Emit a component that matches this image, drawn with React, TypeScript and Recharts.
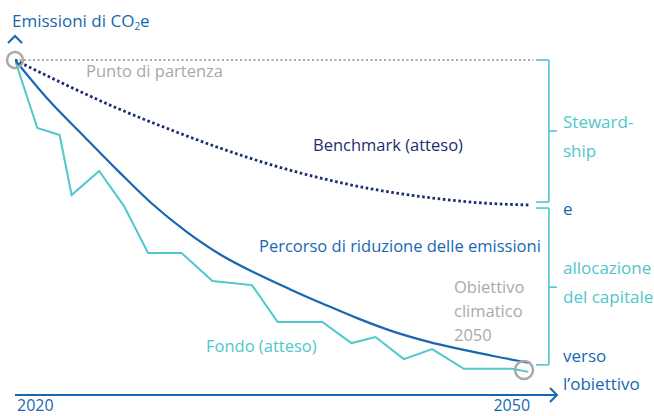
import React from 'react'
import { LineChart, Line, XAxis, YAxis, ReferenceLine, ReferenceDot } from 'recharts'

// Benchmark (atteso) - dotted navy curve
const benchmarkYears = [2020, 2023, 2026, 2029, 2032, 2035, 2038, 2041, 2044, 2047, 2050]
const benchmarkValues = [100, 92.5, 85.5, 79.3, 73.6, 68.6, 64.5, 61.3, 59.0, 57.4, 56.7]

// Percorso di riduzione delle emissioni - solid blue curve
const pathYears = [2020, 2022, 2024, 2026, 2028, 2030, 2032, 2034, 2036, 2038, 2040, 2042, 2044, 2046, 2048, 2050]
const pathValues = [100, 87.8, 77.3, 66.9, 57.0, 48.7, 41.8, 36.4, 31.6, 27.1, 22.8, 19.0, 16.0, 13.6, 11.5, 9.6]

// Fondo (atteso) - jagged teal line
const fundYears = [2020, 2021.3, 2022.6, 2023.3, 2024.9, 2026.35, 2027.75, 2029.7, 2031.5, 2033.8, 2035.3, 2037.9, 2039.6, 2041.0, 2042.65, 2044.3, 2046.15, 2048.95, 2049.9]
const fundValues = [100, 79.7, 77.6, 59.7, 66.9, 56.4, 42.4, 42.4, 34.0, 32.8, 21.8, 21.8, 15.5, 17.3, 10.7, 13.7, 7.8, 7.8, 6.9]

const yearTicks = [2020, 2050]

const START = 100
const X_MIN = 2020
const X_MAX = 2051.57
const Y_MAX = 107.16

const BLUE = '#1767b1'
const NAVY = '#1d2d6f'
const TEAL = '#4fc7cc'
const GREY = '#a9a9a9'
const FONT = '"Open Sans", sans-serif'

const zip = (xs: number[], ys: number[]) => xs.map((year, i) => ({ year, value: ys[i] }))

const benchmarkData = zip(benchmarkYears, benchmarkValues)
const pathData = zip(pathYears, pathValues)
const fundData = zip(fundYears, fundValues)

const YearTick = (props: any) => {
  const { x, payload } = props
  const isStart = payload.value === X_MIN
  return (
    <text
      x={isStart ? x + 2 : x}
      y={411}
      textAnchor={isStart ? 'start' : 'end'}
      fill={BLUE}
      fontSize={16}
      fontFamily={FONT}
    >
      {payload.value}
    </text>
  )
}

const UpArrow = (p: any) => (
  <path d={`M${p.cx - 7},${p.cy + 7} L${p.cx},${p.cy} L${p.cx + 7},${p.cy + 7}`} stroke={BLUE} strokeWidth={2} fill="none" />
)
const RightArrow = (p: any) => (
  <path d={`M${p.cx - 7},${p.cy - 7} L${p.cx},${p.cy} L${p.cx - 7},${p.cy + 7}`} stroke={BLUE} strokeWidth={2} fill="none" />
)

// bracket segments on the right side: [x1, y1, x2, y2]
const bracketSegments = [
  [2050.35, 100, 2051.1, 100],
  [2051.1, 100, 2051.1, 57.6],
  [2050.35, 57.6, 2051.1, 57.6],
  [2051.1, 78.8, 2051.57, 78.8],
  [2050.35, 55.8, 2051.1, 55.8],
  [2051.1, 55.8, 2051.1, 9.0],
  [2050.35, 9.0, 2051.1, 9.0],
  [2051.1, 32.2, 2051.57, 32.2],
]

const labels = [
  { text: 'Punto di partenza', x: 86, y: 71, color: GREY, size: 16.5 },
  { text: 'Benchmark (atteso)', x: 313, y: 145, color: NAVY, size: 16.5 },
  { text: 'Percorso di riduzione delle emissioni', x: 259, y: 246, color: BLUE, size: 16.5 },
  { text: 'Obiettivo', x: 454, y: 287, color: GREY, size: 16.5 },
  { text: 'climatico', x: 454, y: 311, color: GREY, size: 16.5 },
  { text: '2050', x: 454, y: 335, color: GREY, size: 16.5 },
  { text: 'Fondo (atteso)', x: 206, y: 346, color: TEAL, size: 16.5 },
  { text: 'Steward-', x: 563, y: 122, color: TEAL, size: 17 },
  { text: 'ship', x: 563, y: 151, color: TEAL, size: 17 },
  { text: 'e', x: 563, y: 209, color: BLUE, size: 17 },
  { text: 'allocazione', x: 563, y: 268, color: TEAL, size: 17 },
  { text: 'del capitale', x: 563, y: 297, color: TEAL, size: 17 },
  { text: 'verso', x: 563, y: 356, color: BLUE, size: 17 },
  { text: 'l\u2019obiettivo', x: 563, y: 384, color: BLUE, size: 17 },
]

export default function App() {
  return (
    <div style={{ position: 'absolute', left: 0, top: 0, width: 654, height: 416, background: '#fff', fontFamily: FONT }}>
      <LineChart width={654} height={416} margin={{ top: 36, right: 97, bottom: 0, left: 15 }}>
        <XAxis
          type="number"
          dataKey="year"
          domain={[X_MIN, X_MAX]}
          ticks={yearTicks}
          interval={0}
          tick={<YearTick />}
          tickLine={false}
          axisLine={{ stroke: BLUE, strokeWidth: 2 }}
          height={21}
          allowDataOverflow
        />
        <YAxis
          type="number"
          dataKey="value"
          domain={[0, Y_MAX]}
          width={0}
          tick={false}
          tickLine={false}
          axisLine={{ stroke: BLUE, strokeWidth: 2 }}
          allowDataOverflow
        />
        <ReferenceLine
          segment={[{ x: X_MIN, y: START }, { x: 2050.2, y: START }]}
          stroke={GREY}
          strokeWidth={2}
          strokeDasharray="2 2.5"
          ifOverflow="visible"
        />
        {bracketSegments.map((s, i) => (
          <ReferenceLine
            key={i}
            segment={[{ x: s[0], y: s[1] }, { x: s[2], y: s[3] }]}
            stroke={TEAL}
            strokeWidth={1.6}
            ifOverflow="visible"
          />
        ))}
        <Line
          data={fundData}
          dataKey="value"
          type="linear"
          stroke={TEAL}
          strokeWidth={2}
          dot={false}
          isAnimationActive={false}
        />
        <Line
          data={benchmarkData}
          dataKey="value"
          type="monotone"
          stroke={NAVY}
          strokeWidth={2.8}
          strokeDasharray="2.6 2.6"
          dot={false}
          isAnimationActive={false}
        />
        <Line
          data={pathData}
          dataKey="value"
          type="monotone"
          stroke={BLUE}
          strokeWidth={2.2}
          dot={false}
          isAnimationActive={false}
        />
        <ReferenceDot x={X_MIN} y={START} r={8} fill="none" stroke={GREY} strokeWidth={2.5} ifOverflow="visible" />
        <ReferenceDot x={2049.65} y={7.46} r={9} fill="none" stroke={GREY} strokeWidth={2.5} ifOverflow="visible" />
        <ReferenceDot x={X_MIN} y={Y_MAX} shape={<UpArrow />} ifOverflow="visible" />
        <ReferenceDot x={X_MAX} y={0} shape={<RightArrow />} ifOverflow="visible" />
      </LineChart>
      <div style={{ position: 'absolute', left: 12, top: 9, color: BLUE, fontSize: 17, lineHeight: '24px', whiteSpace: 'nowrap' }}>
        Emissioni di CO<sub style={{ fontSize: 10, verticalAlign: -3 }}>2</sub>e
      </div>
      {labels.map((l, i) => (
        <div
          key={i}
          style={{
            position: 'absolute',
            left: l.x,
            top: l.y - 12,
            height: 24,
            lineHeight: '24px',
            fontSize: l.size,
            color: l.color,
            whiteSpace: 'nowrap',
          }}
        >
          {l.text}
        </div>
      ))}
    </div>
  )
}
